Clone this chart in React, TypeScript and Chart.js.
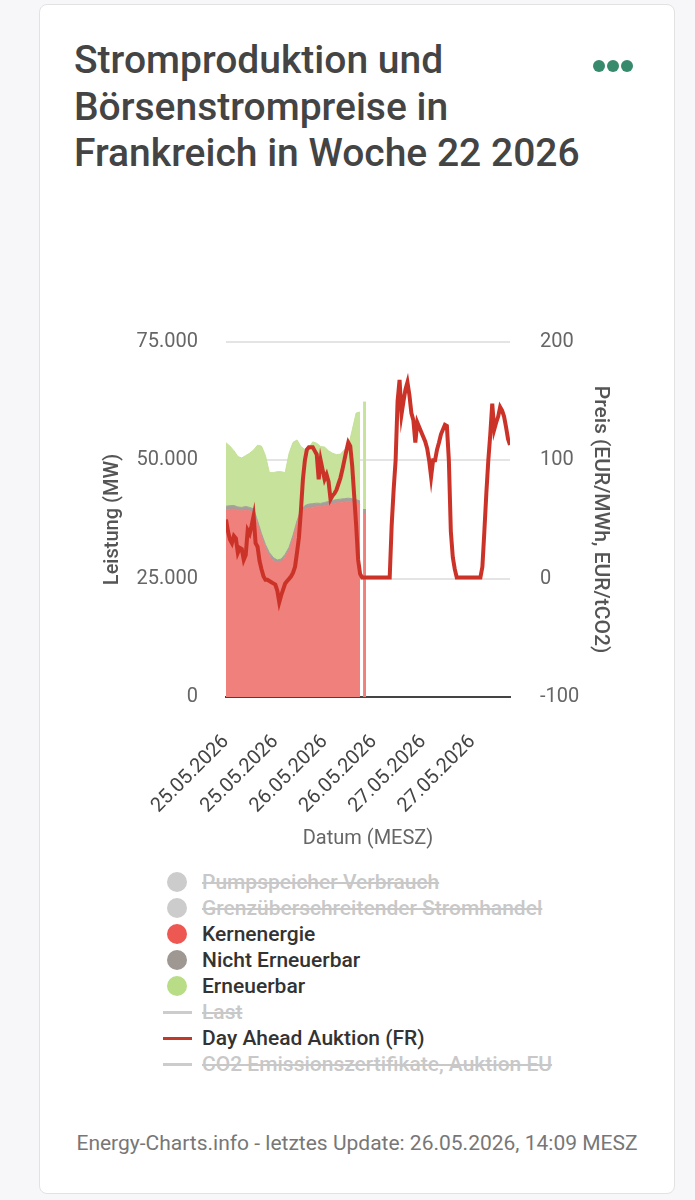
import React, { useEffect, useRef } from "react";
import { Chart, registerables } from "chart.js";

Chart.register(...registerables);

// ---- data ----
const DAYS = ["25.05.2026", "26.05.2026", "27.05.2026"];

// Day-ahead price FR (EUR/MWh), half-hourly from 25.05.2026 00:00 (index / 2 = hour)
const PRICE_FR = [
  50, 40, 33, 30, 36, 34, 22, 26, 25, 16, 20, 41,
  38, 45, 53, 30, 27, 15, 8, 2, -1, -1, -2, -3,
  -4, -5, -10, -20, -14, -9, -4, -2, 0, 2, 5, 10,
  22, 35, 58, 84, 100, 109, 111, 111, 111, 108, 105, 84,
  100, 92, 84, 88, 82, 67, 70, 72, 75, 80, 85, 92,
  100, 108, 115, 112, 95, 70, 45, 16, 4, 1, 1, 1,
  1, 1, 1, 1, 1, 1, 1, 1, 1, 1, 1, 1,
  45, 75, 100, 150, 168, 139, 150, 160, 166, 155, 140, 134,
  115, 132, 128, 124, 120, 116, 110, 100, 86, 100, 100, 109,
  115, 122, 126, 130, 129, 100, 40, 18, 8, 1, 1, 1,
  1, 1, 1, 1, 1, 1, 1, 1, 1, 1, 10, 40,
  72, 100, 122, 148, 126, 132, 137, 145, 142, 137, 128, 118,
  113,
];

// Production (MW), hourly from 25.05.2026 00:00 (index = hour)
const KERNENERGIE = [
  39500, 39600, 39700, 39400, 39300, 39500, 39300, 39000, 36500, 33800, 31500, 29800,
  28800, 28300, 28500, 29500, 31000, 33500, 36500, 38800, 39700, 40000, 40100, 40200,
  40200, 40400, 40600, 40800, 41000, 41100, 41200, 41300, 41200, 41000, 40700,
];
const NICHT_ERNEUERBAR = [
  800, 800, 750, 750, 750, 750, 750, 750, 700, 700, 700, 700, 650, 650, 650, 650, 650,
  700, 700, 750, 750, 750, 750, 750, 700, 700, 700, 700, 700, 700, 700, 700, 700, 700, 700,
];
const ERNEUERBAR = [
  13400, 12600, 11600, 10650, 10450, 10750, 11450, 12450, 16000, 18500, 18800, 16900,
  17950, 18650, 18450, 17250, 19850, 19600, 17100, 13350, 11850, 11950, 13050, 12650,
  12000, 11700, 10700, 10000, 9500, 9500, 10300, 10800, 14500, 18300, 18800,
];

// isolated later values (forecast spike)
const GAP_HOUR = 34.4;
const SPIKE_HOURS = [34.75, 35.5];
const SPIKE_KERNENERGIE = [38800, 38800];
const SPIKE_NICHT_ERNEUERBAR = [800, 800];
const SPIKE_ERNEUERBAR = [22700, 22700];

const LEGEND = [
  { label: "Pumpspeicher Verbrauch", kind: "dot", color: "#cccccc", hidden: true },
  { label: "Grenzüberschreitender Stromhandel", kind: "dot", color: "#cccccc", hidden: true },
  { label: "Kernenergie", kind: "dot", color: "#ee5853", hidden: false },
  { label: "Nicht Erneuerbar", kind: "dot", color: "#9e9792", hidden: false },
  { label: "Erneuerbar", kind: "dot", color: "#b8dd86", hidden: false },
  { label: "Last", kind: "line", color: "#cccccc", hidden: true },
  { label: "Day Ahead Auktion (FR)", kind: "line", color: "#c0392b", hidden: false },
  { label: "CO2 Emissionszertifikate, Auktion EU", kind: "line", color: "#cccccc", hidden: true },
];

const FONT = "Roboto";

function prodSeries(main: number[], spike: number[]) {
  return [
    ...main.map((y, i) => ({ x: i, y })),
    { x: GAP_HOUR, y: null as any },
    ...spike.map((y, i) => ({ x: SPIKE_HOURS[i], y })),
  ];
}

function fmtDe(v: number) {
  const s = Math.round(v).toString();
  return s.replace(/\B(?=(\d{3})+(?!\d))/g, ".");
}

function ChartView() {
  const ref = useRef<HTMLCanvasElement | null>(null);
  useEffect(() => {
    if (!ref.current) return;
    const chart = new Chart(ref.current, {
      type: "line",
      data: {
        datasets: [
          {
            label: "Day Ahead Auktion (FR)",
            data: PRICE_FR.map((y, i) => ({ x: i / 2, y })),
            yAxisID: "y1",
            borderColor: "#cc3328",
            borderWidth: 4,
            fill: false,
            pointRadius: 0,
            order: 0,
          },
          {
            label: "Kernenergie",
            data: prodSeries(KERNENERGIE, SPIKE_KERNENERGIE),
            yAxisID: "y",
            borderColor: "#ee7f7a",
            backgroundColor: "#ef807b",
            borderWidth: 1,
            fill: "origin",
            pointRadius: 0,
            order: 1,
          },
          {
            label: "Nicht Erneuerbar",
            data: prodSeries(NICHT_ERNEUERBAR, SPIKE_NICHT_ERNEUERBAR),
            yAxisID: "y",
            borderColor: "#a59e99",
            backgroundColor: "#a59e99",
            borderWidth: 1,
            fill: "-1",
            pointRadius: 0,
            order: 1,
          },
          {
            label: "Erneuerbar",
            data: prodSeries(ERNEUERBAR, SPIKE_ERNEUERBAR),
            yAxisID: "y",
            borderColor: "#c3e096",
            backgroundColor: "#c6e29b",
            borderWidth: 1,
            fill: "-1",
            pointRadius: 0,
            order: 1,
          },
        ],
      },
      options: {
        animation: false,
        responsive: true,
        maintainAspectRatio: false,
        layout: { padding: { top: 17, left: 0, right: 0, bottom: 0 } },
        plugins: { legend: { display: false }, tooltip: { enabled: false } },
        elements: { point: { radius: 0 }, line: { tension: 0 } },
        scales: {
          x: {
            type: "linear",
            min: 0,
            max: 72,
            grid: { display: false },
            border: { display: true, color: "#444444", width: 2 },
            ticks: {
              stepSize: 12.5,
              includeBounds: false,
              autoSkip: false,
              maxRotation: 45,
              minRotation: 45,
              padding: 25,
              color: "#444444",
              font: { family: FONT, size: 20 },
              callback: (v: any) => DAYS[Math.floor(Number(v) / 24)] ?? "",
            },
            title: {
              display: true,
              text: "Datum (MESZ)",
              color: "#666666",
              font: { family: FONT, size: 20 },
            },
            afterFit: (s: any) => {
              s.height = 158;
              s.paddingLeft = 0;
              s.paddingRight = 0;
            },
          },
          y: {
            type: "linear",
            position: "left",
            stacked: true,
            min: 0,
            max: 75000,
            ticks: {
              stepSize: 25000,
              padding: 28,
              color: "#666666",
              font: { family: FONT, size: 20 },
              callback: (v: any) => fmtDe(Number(v)),
            },
            grid: { color: "#e4e4e4", lineWidth: 2, drawTicks: false },
            border: { display: false },
            title: {
              display: true,
              text: "Leistung (MW)",
              color: "#555555",
              font: { family: FONT, size: 20, weight: "500" },
            },
            afterFit: (s: any) => {
              s.width = 129;
              s.paddingTop = 0;
              s.paddingBottom = 0;
            },
          },
          y1: {
            type: "linear",
            position: "right",
            min: -100,
            max: 200,
            ticks: {
              stepSize: 100,
              padding: 30,
              color: "#666666",
              font: { family: FONT, size: 20 },
            },
            grid: { display: false, drawTicks: false },
            border: { display: false },
            title: {
              display: true,
              text: "Preis (EUR/MWh, EUR/tCO2)",
              color: "#555555",
              font: { family: FONT, size: 21, weight: "500" },
            },
            afterFit: (s: any) => {
              s.width = 107;
              s.paddingTop = 0;
              s.paddingBottom = 0;
            },
          },
        },
      } as any,
    });
    return () => chart.destroy();
  }, []);
  return (
    <div style={{ position: "absolute", left: 97, top: 325, width: 520, height: 530 }}>
      <canvas ref={ref} />
    </div>
  );
}

export default function App() {
  return (
    <div
      style={{
        position: "absolute",
        left: 0,
        top: 0,
        width: 695,
        height: 1200,
        background: "#f7f7f9",
        fontFamily: FONT,
        overflow: "hidden",
      }}
    >
      <div
        style={{
          position: "absolute",
          left: 39,
          top: 4,
          width: 636,
          height: 1190,
          background: "#ffffff",
          border: "1px solid #e2e2e2",
          borderRadius: 8,
          boxSizing: "border-box",
        }}
      />
      <div
        style={{
          position: "absolute",
          left: 74,
          top: 37,
          fontSize: 39,
          lineHeight: "46.5px",
          fontWeight: 500,
          color: "#444444",
          whiteSpace: "nowrap",
        }}
      >
        Stromproduktion und
        <br />
        Börsenstrompreise in
        <br />
        Frankreich in Woche 22 2026
      </div>
      {[599, 613, 627].map((cx) => (
        <div
          key={cx}
          style={{
            position: "absolute",
            left: cx - 6,
            top: 60,
            width: 12,
            height: 12,
            borderRadius: "50%",
            background: "#378a6c",
          }}
        />
      ))}
      <ChartView />
      <div style={{ position: "absolute", left: 163, top: 869 }}>
        {LEGEND.map((it) => (
          <div
            key={it.label}
            style={{ display: "flex", alignItems: "center", height: 26 }}
          >
            <div style={{ width: 39, height: 26, position: "relative" }}>
              {it.kind === "dot" ? (
                <div
                  style={{
                    position: "absolute",
                    left: 4,
                    top: 3,
                    width: 20,
                    height: 20,
                    borderRadius: "50%",
                    background: it.color,
                  }}
                />
              ) : (
                <div
                  style={{
                    position: "absolute",
                    left: 0,
                    top: 12,
                    width: 29,
                    height: 3,
                    background: it.color,
                  }}
                />
              )}
            </div>
            <span
              style={{
                fontSize: 21,
                fontWeight: 500,
                color: it.hidden ? "#c8c8c8" : "#333333",
                textDecoration: it.hidden ? "line-through" : "none",
                whiteSpace: "nowrap",
              }}
            >
              {it.label}
            </span>
          </div>
        ))}
      </div>
      <div
        style={{
          position: "absolute",
          left: 39,
          width: 636,
          top: 1131,
          textAlign: "center",
          fontSize: 21,
          lineHeight: "24px",
          color: "#777777",
          whiteSpace: "nowrap",
        }}
      >
        Energy-Charts.info - letztes Update: 26.05.2026, 14:09 MESZ
      </div>
    </div>
  );
}
